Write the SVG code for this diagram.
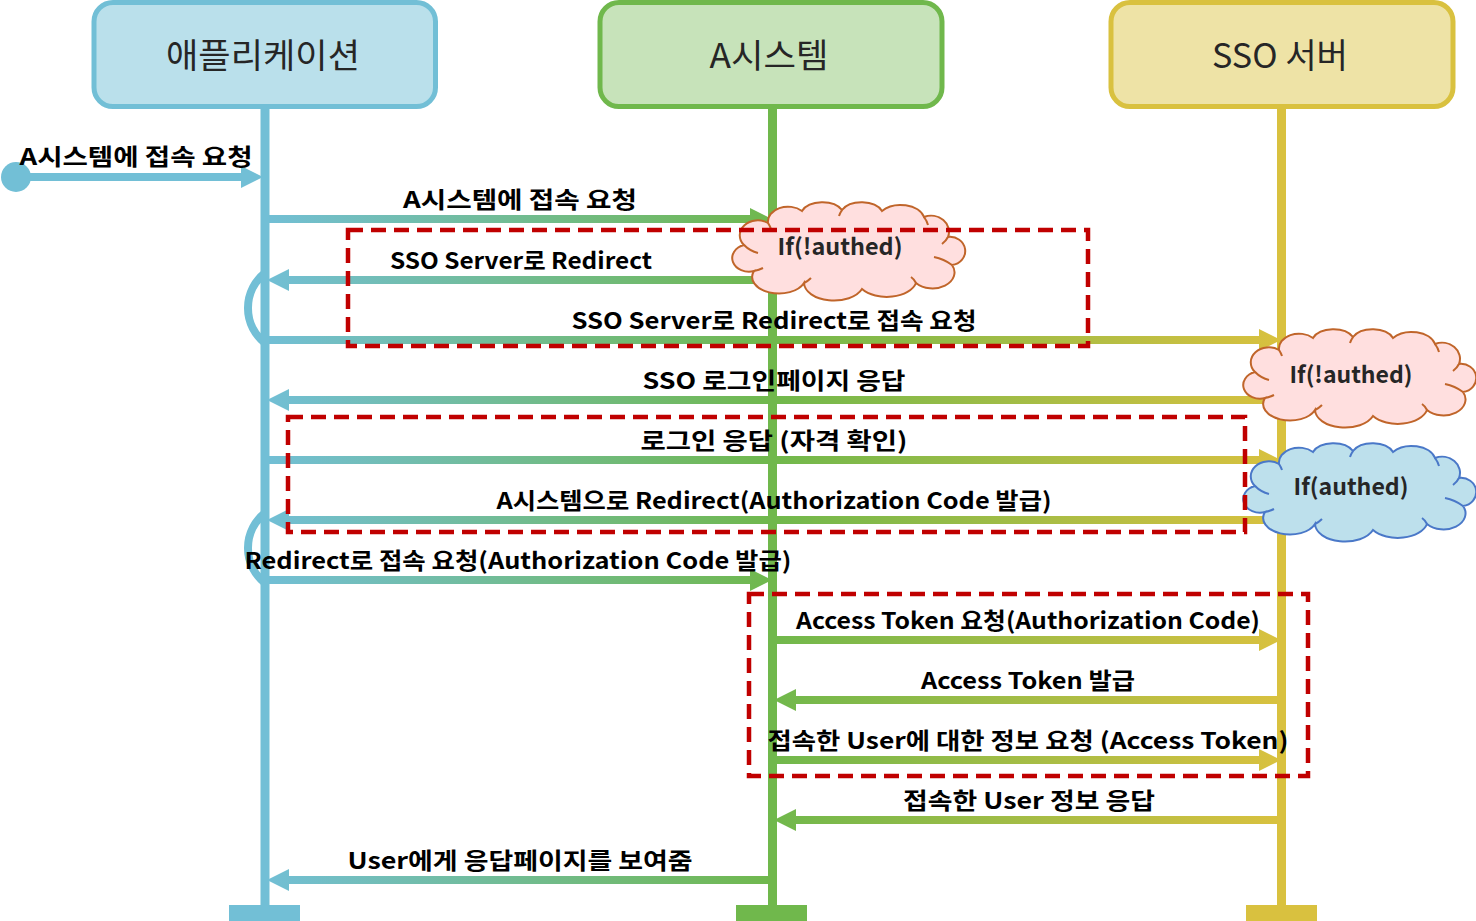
<svg xmlns="http://www.w3.org/2000/svg" width="1476" height="921" viewBox="0 0 1476 921">
<style>
.hdr{stroke-width:5}
.htxt{font-family:"Noto Sans CJK KR","Noto Sans",sans-serif;font-size:34px;font-weight:400;fill:#262626;text-anchor:middle}
.lbl{font-family:"Noto Sans CJK KR","Noto Sans",sans-serif;font-size:23px;font-weight:700;fill:#000;text-anchor:middle}
.ctxt{font-family:"Noto Sans CJK KR","Noto Sans",sans-serif;font-size:23px;font-weight:700;fill:#262626;text-anchor:middle}
.ln{stroke:url(#grad);stroke-width:8;fill:none}
.hd{fill:url(#grad)}
.loop{stroke:#72BFD6;stroke-width:8;fill:none}
.life{stroke-width:9}
.dash{fill:none;stroke:#C00000;stroke-width:4.5;stroke-dasharray:15 8}
.cl{stroke-width:2}
.inner{fill:none;stroke-width:2}
</style>
<defs>
<linearGradient id="grad" gradientUnits="userSpaceOnUse" x1="265" y1="0" x2="1281" y2="0">
<stop offset="0" stop-color="#72BFD6"/>
<stop offset="0.5" stop-color="#70B84C"/>
<stop offset="1" stop-color="#D9C13F"/>
</linearGradient>
<path id="cloud" d="M 20,68 A 16,13 0 0 1 10,42 A 18,15 0 0 1 34,20 A 20,15 0 0 1 68,8 A 22,14 0 0 1 108,7 A 22,14 0 0 1 148,8 A 24,16 0 0 1 190,14 A 18,16 0 0 1 214,34 A 14,13 0 0 1 218,62 A 22,16 0 0 1 182,80 A 30,18 0 0 1 128,86 A 30,18 0 0 1 70,80 A 26,16 0 0 1 20,68 Z"/>
<path id="cloudin" d="M 10,42 q 6,6 14,8 M 34,20 q 2,3 3,6 M 108,7 q -2,3 -3,6 M 190,14 q 3,4 4,8 M 214,34 q -2,4 -6,7 M 218,62 q -8,-6 -18,-8 M 182,80 q -2,-4 -5,-6 M 70,80 q 4,-2 7,-5 M 20,68 q 5,-1 9,-3"/>
</defs>

<g id="connectors">
<circle cx="16" cy="177" r="15" fill="#72BFD6"/>
<line x1="16" y1="177" x2="245" y2="177" stroke="#72BFD6" stroke-width="8"/>
<polygon points="241,166 263,177 241,188" fill="#72BFD6"/>

<line class="ln" x1="265" y1="219" x2="754" y2="219"/>
<polygon class="hd" points="750,208 772,219 750,230"/>

<line class="ln" x1="772" y1="280" x2="285" y2="280"/>
<polygon class="hd" points="289,269 267,280 289,291"/>
<path class="loop" d="M 265,273 A 44.5,44.5 0 0 0 265,343"/>

<line class="ln" x1="265" y1="340" x2="1263" y2="340"/>
<polygon class="hd" points="1259,329 1281,340 1259,351"/>

<line class="ln" x1="1281" y1="400" x2="285" y2="400"/>
<polygon class="hd" points="289,389 267,400 289,411"/>

<line class="ln" x1="265" y1="460" x2="1263" y2="460"/>
<polygon class="hd" points="1259,449 1281,460 1259,471"/>

<line class="ln" x1="1281" y1="520" x2="285" y2="520"/>
<polygon class="hd" points="289,509 267,520 289,531"/>
<path class="loop" d="M 265,513 A 44.5,44.5 0 0 0 265,583"/>

<line class="ln" x1="265" y1="580" x2="754" y2="580"/>
<polygon class="hd" points="750,569 772,580 750,591"/>

<line class="ln" x1="772" y1="640" x2="1263" y2="640"/>
<polygon class="hd" points="1259,629 1281,640 1259,651"/>

<line class="ln" x1="1281" y1="700" x2="792" y2="700"/>
<polygon class="hd" points="796,689 774,700 796,711"/>

<line class="ln" x1="772" y1="760" x2="1263" y2="760"/>
<polygon class="hd" points="1259,749 1281,760 1259,771"/>

<line class="ln" x1="1281" y1="820" x2="792" y2="820"/>
<polygon class="hd" points="796,809 774,820 796,831"/>

<line class="ln" x1="772" y1="880" x2="285" y2="880"/>
<polygon class="hd" points="289,869 267,880 289,891"/>
</g>

<g id="node-app">
<line class="life" x1="265" y1="107" x2="265" y2="906" stroke="#72BFD6"/>
<rect x="229" y="905" width="71" height="16" fill="#72BFD6"/>
<rect class="hdr" x="94" y="2.5" width="341.5" height="104" rx="19" fill="#BAE0EB" stroke="#72BFD6"/>
<text class="htxt" x="263" y="68" textLength="194" lengthAdjust="spacingAndGlyphs">애플리케이션</text>
</g>

<g id="node-asystem">
<line class="life" x1="772.5" y1="107" x2="772.5" y2="906" stroke="#70B84C"/>
<rect x="736" y="905" width="71" height="16" fill="#70B84C"/>
<rect class="hdr" x="600" y="2.5" width="342" height="104" rx="19" fill="#C7E3BA" stroke="#70B84C"/>
<text class="htxt" x="769" y="68" textLength="119" lengthAdjust="spacingAndGlyphs">A시스템</text>
</g>

<g id="node-sso">
<line class="life" x1="1281.5" y1="107" x2="1281.5" y2="906" stroke="#D9C13F"/>
<rect x="1246" y="905" width="71" height="16" fill="#D9C13F"/>
<rect class="hdr" x="1111" y="2.5" width="342" height="104" rx="19" fill="#EEE3A6" stroke="#D9C13F"/>
<text class="htxt" x="1280" y="68" textLength="136" lengthAdjust="spacingAndGlyphs">SSO 서버</text>
</g>

<g id="connector-labels">
<text class="lbl" x="136" y="165" textLength="233" lengthAdjust="spacingAndGlyphs">A시스템에 접속 요청</text>
<text class="lbl" x="520" y="208" textLength="234" lengthAdjust="spacingAndGlyphs">A시스템에 접속 요청</text>
<text class="lbl" x="521" y="269" textLength="262" lengthAdjust="spacingAndGlyphs">SSO Server로 Redirect</text>
<text class="lbl" x="774" y="329" textLength="405" lengthAdjust="spacingAndGlyphs">SSO Server로 Redirect로 접속 요청</text>
<text class="lbl" x="774" y="389" textLength="263" lengthAdjust="spacingAndGlyphs">SSO 로그인페이지 응답</text>
<text class="lbl" x="774" y="449" textLength="267" lengthAdjust="spacingAndGlyphs">로그인 응답 (자격 확인)</text>
<text class="lbl" x="774" y="509" textLength="555" lengthAdjust="spacingAndGlyphs">A시스템으로 Redirect(Authorization Code 발급)</text>
<text class="lbl" x="518" y="569" textLength="547" lengthAdjust="spacingAndGlyphs">Redirect로 접속 요청(Authorization Code 발급)</text>
<text class="lbl" x="1028" y="629" textLength="464" lengthAdjust="spacingAndGlyphs">Access Token 요청(Authorization Code)</text>
<text class="lbl" x="1028" y="689" textLength="214" lengthAdjust="spacingAndGlyphs">Access Token 발급</text>
<text class="lbl" x="1028" y="749" textLength="521" lengthAdjust="spacingAndGlyphs">접속한 User에 대한 정보 요청 (Access Token)</text>
<text class="lbl" x="1029" y="809" textLength="252" lengthAdjust="spacingAndGlyphs">접속한 User 정보 응답</text>
<text class="lbl" x="520" y="869" textLength="345" lengthAdjust="spacingAndGlyphs">User에게 응답페이지를 보여줌</text>
</g>

<g id="cloud-1">
<use href="#cloud" transform="translate(734,203)" fill="#FFDFDF" stroke="#C0652A" class="cl"/>
<use href="#cloudin" transform="translate(734,203)" stroke="#C0652A" class="inner"/>
<text class="ctxt" x="840" y="255" textLength="125" lengthAdjust="spacingAndGlyphs">If(!authed)</text>
</g>

<g id="cloud-2">
<use href="#cloud" transform="translate(1245,330)" fill="#FFDFDF" stroke="#C0652A" class="cl"/>
<use href="#cloudin" transform="translate(1245,330)" stroke="#C0652A" class="inner"/>
<text class="ctxt" x="1351" y="383" textLength="123" lengthAdjust="spacingAndGlyphs">If(!authed)</text>
</g>

<g id="cloud-3">
<use href="#cloud" transform="translate(1245,444)" fill="#BDE0EC" stroke="#4A78C8" class="cl"/>
<use href="#cloudin" transform="translate(1245,444)" stroke="#4A78C8" class="inner"/>
<text class="ctxt" x="1351" y="495" textLength="115" lengthAdjust="spacingAndGlyphs">If(authed)</text>
</g>

<g id="groups">
<rect class="dash" x="348" y="230" width="740" height="116"/>
<rect class="dash" x="288" y="417" width="957" height="115"/>
<rect class="dash" x="749" y="594" width="559" height="182"/>
</g>
</svg>
